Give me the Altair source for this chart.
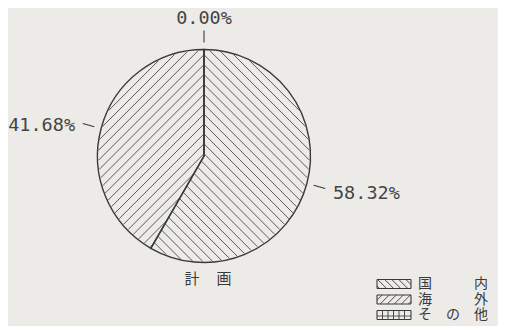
import math
import numpy as np
import pandas as pd
import altair as alt

# ---------------- data ----------------
categories = ["国内", "海外", "その他"]
shares = [58.32, 41.68, 0.00]
share_labels = ["58.32%", "41.68%", "0.00%"]
legend_labels = ["国　内", "海　外", "その他"]
hatch_kinds = ["back", "fwd", "grid"]
title_text = "計画"

# ---------------- layout / style ----------------
W, H = 490, 318
CX, CY, R = 204.0, 156.0, 106.5
BG = "#ecebe8"
INK = "#3a3a3a"
HATCH = "#4a4a4a"
SPACING = 7.0

xs = alt.Scale(domain=[8, 8 + W], nice=False, zero=False)
ys = alt.Scale(domain=[8, 8 + H], nice=False, zero=False, reverse=True)

total = sum(shares)
starts, ends = [], []
acc = 0.0
for v in shares:
    starts.append(acc / total * 2 * math.pi)
    acc += v
    ends.append(acc / total * 2 * math.pi)


def clip_lines(direction, spacing, phase, inside, bbox):
    """Parallel lines of a given direction, clipped to a region by sampling."""
    dx, dy = direction
    n = math.hypot(dx, dy)
    dx, dy = dx / n, dy / n
    nx, ny = -dy, dx
    x0, y0, x1, y1 = bbox
    mx, my = (x0 + x1) / 2, (y0 + y1) / 2
    half = math.hypot(x1 - x0, y1 - y0) / 2
    segs = []
    c = -half + phase
    ts = np.linspace(-half, half, 900)
    while c <= half:
        px = mx + c * nx + ts * dx
        py = my + c * ny + ts * dy
        ins = inside(px, py)
        i = 0
        while i < len(ts):
            if ins[i]:
                j = i
                while j + 1 < len(ts) and ins[j + 1]:
                    j += 1
                if j > i:
                    segs.append((px[i], py[i], px[j], py[j]))
                i = j + 1
            else:
                i += 1
        c += spacing
    return segs


dirs = {"back": (1, 1), "fwd": (1, -1)}

rows = []
for cat, kind, a0, a1 in zip(categories, hatch_kinds, starts, ends):
    if a1 - a0 <= 0 or kind not in dirs:
        continue

    def inside(px, py, a0=a0, a1=a1):
        ang = np.mod(np.arctan2(px - CX, -(py - CY)), 2 * math.pi)
        r = np.hypot(px - CX, py - CY)
        return (r < R - 0.8) & (ang >= a0) & (ang <= a1)

    for s in clip_lines(dirs[kind], SPACING, 2.0, inside,
                        (CX - R, CY - R, CX + R, CY + R)):
        rows.append(dict(x=s[0], y=s[1], x2=s[2], y2=s[3], w=0.9, c=HATCH))

# legend swatches
SW_X0, SW_X1, SW_H = 377.0, 411.0, 9.0
ROW_Y = [284.0, 299.5, 315.0]
PITCH = 28.0
legend_text_rows = []
for lab, kind, yc in zip(legend_labels, hatch_kinds, ROW_Y):
    y0, y1 = yc - SW_H / 2, yc + SW_H / 2
    for s in [(SW_X0, y0, SW_X1, y0), (SW_X0, y1, SW_X1, y1),
              (SW_X0, y0, SW_X0, y1), (SW_X1, y0, SW_X1, y1)]:
        rows.append(dict(x=s[0], y=s[1], x2=s[2], y2=s[3], w=1.1, c=INK))
    if kind in dirs:
        def inside_r(px, py, y0=y0, y1=y1):
            return (px > SW_X0) & (px < SW_X1) & (py > y0) & (py < y1)
        for s in clip_lines(dirs[kind], 5.0, 1.0, inside_r,
                            (SW_X0, y0, SW_X1, y1)):
            rows.append(dict(x=s[0], y=s[1], x2=s[2], y2=s[3], w=0.9, c=INK))
    else:
        xg = SW_X0 + 5.5
        while xg < SW_X1 - 1:
            rows.append(dict(x=xg, y=y0, x2=xg, y2=y1, w=0.9, c=INK))
            xg += 5.5
        rows.append(dict(x=SW_X0, y=yc + 1, x2=SW_X1, y2=yc + 1, w=0.8, c=INK))
    for k, ch in enumerate(lab):
        if ch.strip():
            legend_text_rows.append(dict(x=SW_X1 + 14 + PITCH * k, y=yc, t=ch))

# leader ticks & labels from mid angles
label_rows = []
for lab, a0, a1 in zip(share_labels, starts, ends):
    m = (a0 + a1) / 2
    s, c = math.sin(m), math.cos(m)
    rows.append(dict(x=CX + (R + 7) * s, y=CY - (R + 7) * c,
                     x2=CX + (R + 19) * s, y2=CY - (R + 19) * c, w=1.1, c=INK))
    align = "left" if s > 0.3 else ("right" if s < -0.3 else "center")
    base = "alphabetic" if c > 0.7 else ("top" if c < -0.7 else "middle")
    off = R + (25.5 if base == "alphabetic" else 27)
    label_rows.append(dict(x=CX + off * s, y=CY - off * c + (3 if base == "middle" else 0),
                           t=lab, key=align + "|" + base))

seg_df = pd.DataFrame(rows)
lab_df = pd.DataFrame(label_rows)
leg_df = pd.DataFrame(legend_text_rows)
title_df = pd.DataFrame([dict(x=CX - 12 + 32 * k, y=279.0, t=ch)
                         for k, ch in enumerate(title_text)])

pie_df = pd.DataFrame({"cat": categories, "share": shares,
                       "order": list(range(len(categories)))})

# ---------------- chart ----------------
base_pie = alt.Chart(pie_df).encode(
    theta=alt.Theta("share:Q", stack=True),
    order=alt.Order("order:Q"),
    x=alt.value(CX - 8), y=alt.value(CY - 8),
)
pie_fill = base_pie.mark_arc(radius=R, fill=BG, stroke=None)
pie_edge = base_pie.mark_arc(radius=R, fillOpacity=0, stroke=INK,
                             strokeWidth=1.4)

segs = alt.Chart(seg_df).mark_rule(strokeCap="butt").encode(
    x=alt.X("x:Q", scale=xs, axis=None),
    y=alt.Y("y:Q", scale=ys, axis=None),
    x2="x2:Q", y2="y2:Q",
    strokeWidth=alt.StrokeWidth("w:Q", scale=None),
    color=alt.Color("c:N", scale=None),
)

label_layers = []
for key in lab_df["key"].unique():
    al, bl = key.split("|")
    label_layers.append(
        alt.Chart(lab_df).transform_filter(alt.datum.key == key)
        .mark_text(font="DejaVu Sans Mono", fontSize=18.5, color="#444444",
                   align=al, baseline=bl)
        .encode(x=alt.X("x:Q", scale=xs, axis=None),
                y=alt.Y("y:Q", scale=ys, axis=None), text="t:N")
    )

legend_text = alt.Chart(leg_df).mark_text(
    font="Noto Sans CJK JP", fontSize=14, color=INK, align="center",
    baseline="middle").encode(
    x=alt.X("x:Q", scale=xs, axis=None),
    y=alt.Y("y:Q", scale=ys, axis=None), text="t:N")

title = alt.Chart(title_df).mark_text(
    font="Noto Sans CJK JP", fontSize=15, color=INK, align="center",
    baseline="middle").encode(
    x=alt.X("x:Q", scale=xs, axis=None),
    y=alt.Y("y:Q", scale=ys, axis=None), text="t:N")

chart = alt.layer(pie_fill, segs, pie_edge, *label_layers, legend_text, title).properties(
    width=W, height=H, autosize="none", padding=0, background=BG
).configure_view(stroke=None)

chart.save("out.html", embed_options={"renderer": "svg", "actions": False})
